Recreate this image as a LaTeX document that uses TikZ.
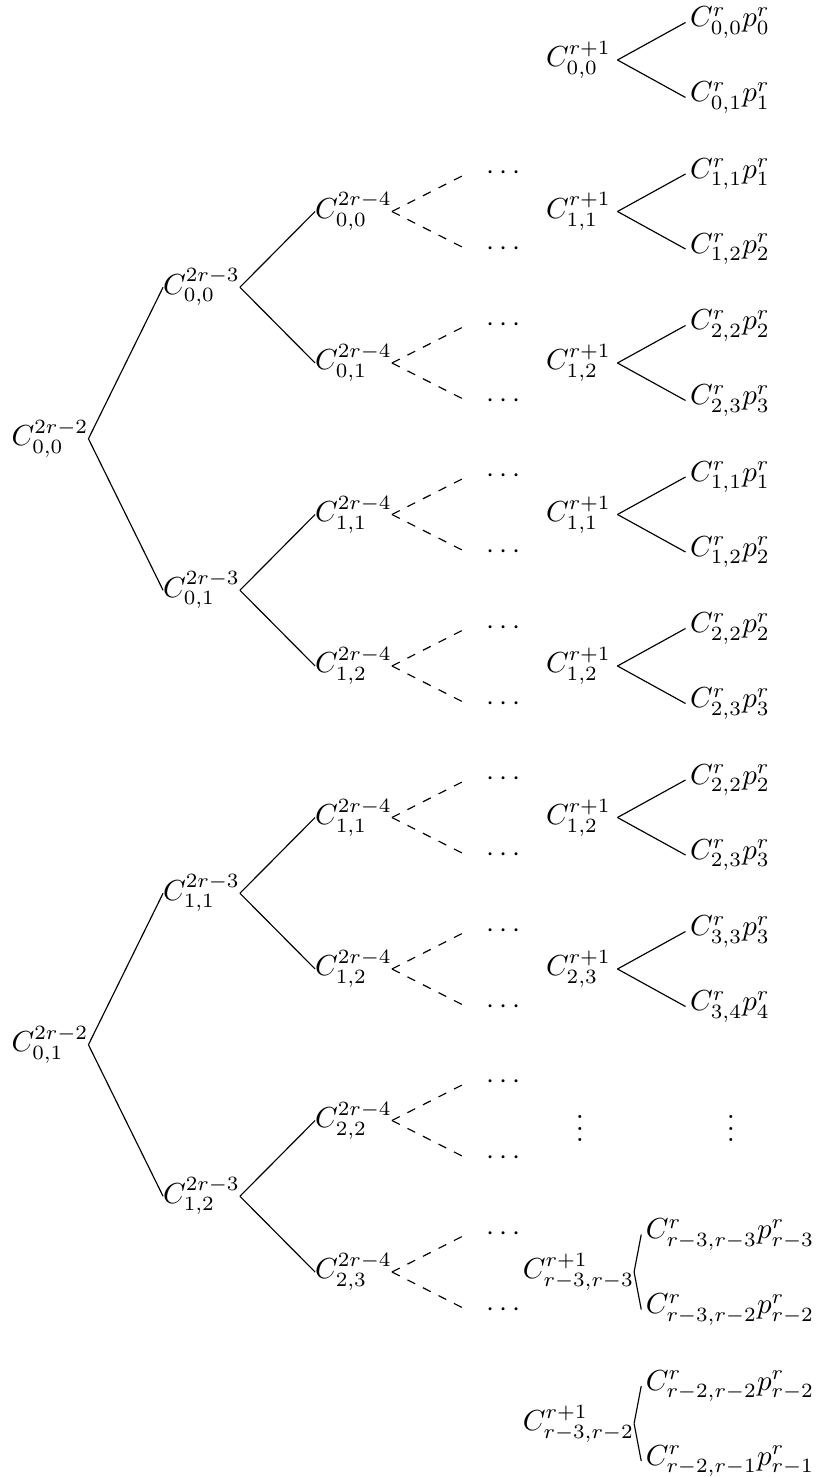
\documentclass[tikz,border=0pt]{standalone}
\begin{document}
\begin{tikzpicture}[x=0.345pt,y=-0.345pt,
  every node/.style={inner sep=0pt, outer sep=0pt},
  lthree/.style={minimum width=26.9pt},
  lfour/.style={inner xsep=1.6pt},
  dotnode/.style={minimum width=25.2pt},
  treeedge/.style={line width=0.4pt},
  dashedge/.style={line width=0.4pt, dashed}]
\useasboundingbox (0,0) rectangle (815,1477);
% level 0
\node (a0) at (50,438.75) {$C^{2r-2}_{0,0}$};
\node (a1) at (50,1044.75) {$C^{2r-2}_{0,1}$};
% level 1
\node (b1) at (201.5,287.25) {$C^{2r-3}_{0,0}$};
\node (b2) at (201.5,590.25) {$C^{2r-3}_{0,1}$};
\node (b3) at (201.5,893.25) {$C^{2r-3}_{1,1}$};
\node (b4) at (201.5,1196.25) {$C^{2r-3}_{1,2}$};
\draw[treeedge] (a0.east) -- (b1.west);
\draw[treeedge] (a0.east) -- (b2.west);
\draw[treeedge] (a1.east) -- (b3.west);
\draw[treeedge] (a1.east) -- (b4.west);
% level 2 with dashed continuations
\foreach \k/\lab/\p in {1/{0,0}/1, 2/{0,1}/1, 3/{1,1}/2, 4/{1,2}/2, 5/{1,1}/3, 6/{1,2}/3, 7/{2,2}/4, 8/{2,3}/4} {
  \node (c\k) at (353.5,{60+151.5*\k}) {$C^{2r-4}_{\lab}$};
  \draw[treeedge] (b\p.east) -- (c\k.west);
  \node[dotnode] (du\k) at (503.5,{60+151.5*\k-38}) {$\cdots$};
  \node[dotnode] (dd\k) at (503.5,{60+151.5*\k+38}) {$\cdots$};
  \draw[dashedge] (c\k.east) -- (du\k.west);
  \draw[dashedge] (c\k.east) -- (dd\k.west);
}
% level 3 and 4
\foreach \k/\lab/\ua/\ub/\ta/\tb in {
  0/{0,0}/{0,0}/0/{0,1}/1,
  1/{1,1}/{1,1}/1/{1,2}/2,
  2/{1,2}/{2,2}/2/{2,3}/3,
  3/{1,1}/{1,1}/1/{1,2}/2,
  4/{1,2}/{2,2}/2/{2,3}/3,
  5/{1,2}/{2,2}/2/{2,3}/3,
  6/{2,3}/{3,3}/3/{3,4}/4,
  8/{r-3,r-3}/{r-3,r-3}/{r-3}/{r-3,r-2}/{r-2},
  9/{r-3,r-2}/{r-2,r-2}/{r-2}/{r-2,r-1}/{r-1}} {
  \node[lthree] (e\k) at (578.5,{60+151.5*\k}) {$C^{r+1}_{\lab}$};
  \node[lfour] (fu\k) at (730,{60+151.5*\k-37.5}) {$C^{r}_{\ua}p^{r}_{\ub}$};
  \node[lfour] (fd\k) at (730,{60+151.5*\k+37.5}) {$C^{r}_{\ta}p^{r}_{\tb}$};
  \draw[treeedge] (e\k.east) -- (fu\k.west);
  \draw[treeedge] (e\k.east) -- (fd\k.west);
}
\node (v1) at (580,1120) {$\vdots$};
\node (v2) at (731,1120) {$\vdots$};
\end{tikzpicture}
\end{document}
